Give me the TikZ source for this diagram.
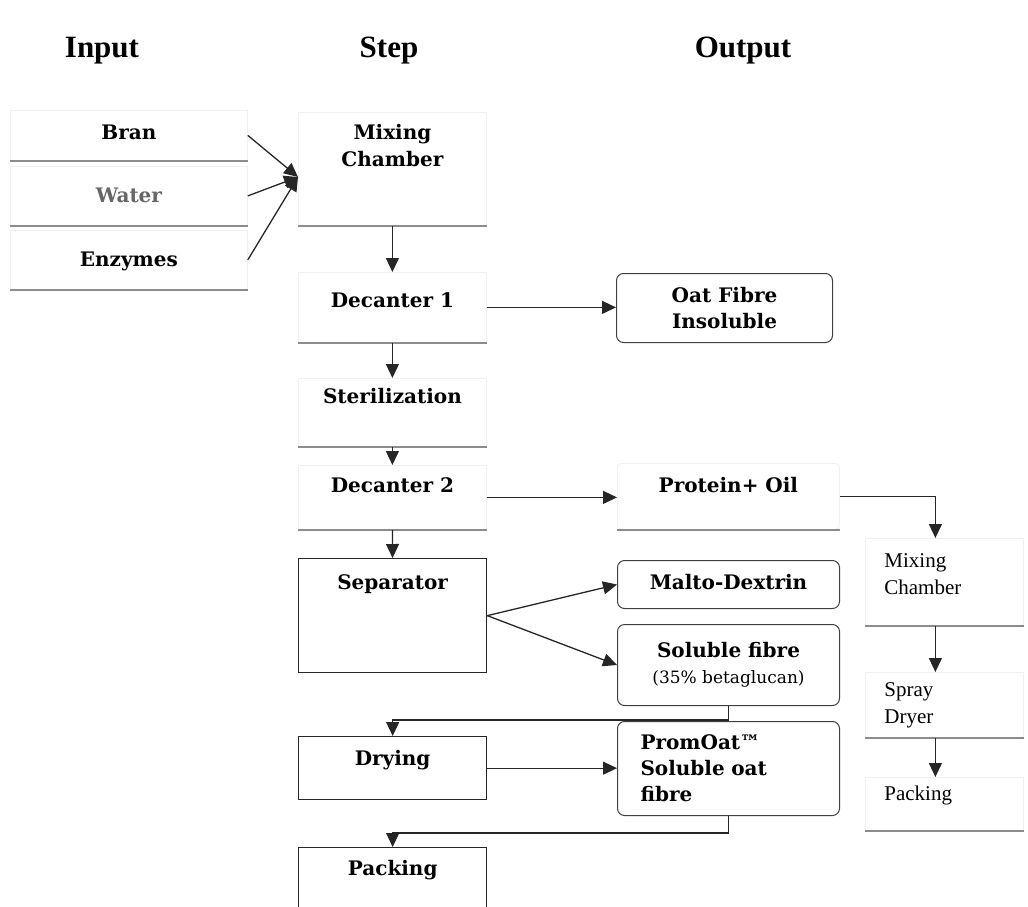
\documentclass[tikz,border=0pt]{standalone}
\usepackage{fontspec}
\setmainfont{DejaVu Serif}
\newfontfamily\headfont{Liberation Serif}
\usetikzlibrary{arrows.meta,positioning}

\tikzset{
  softbox/.style={draw=black!6, line width=0.8pt, fill=white, anchor=north west,
    inner sep=0pt, minimum width=#1,
    append after command={(\tikzlastnode.south west) edge[draw=black!45, line width=1.5pt, -] (\tikzlastnode.south east)}},
  plainbox/.style={draw=black!85, line width=1.3pt, fill=white, anchor=north west,
    inner sep=0pt, minimum width=#1},
  roundbox/.style={draw=black!75, line width=1pt, rounded corners=7pt, fill=white,
    anchor=north west, inner sep=0pt, minimum width=#1},
  oneline/.style={text height=14pt, text depth=#1},
  head/.style={anchor=base, font=\headfont\bfseries\fontsize{31}{36}\selectfont},
  timesbox/.style={font=\headfont\fontsize{21}{27}\selectfont, text width=120, align=left},
  flow/.style={draw=black!85, line width=1.3pt}
}

\begin{document}
\begin{tikzpicture}[x=1pt,y=-1pt,>={Triangle[length=14pt,width=13pt]},
  font=\bfseries\fontsize{20}{26}\selectfont]

\useasboundingbox (0,0) rectangle (1028,907);
\clip (0,0) rectangle (1028,907);

% column heads
\node[head] (hin)   at (102,58) {Input};
\node[head] (hstep) at (389,58) {Step};
\node[head] (hout)  at (743,58) {Output};

% inputs
\node[softbox=237, minimum height=50, oneline=6]             (bran)    at (10,110) {Bran};
\node[softbox=237, minimum height=59, oneline=0, text=black!60] (water) at (10,166) {Water};
\node[softbox=237, minimum height=59, oneline=0]             (enzymes) at (10,230) {Enzymes};

% steps
\node[softbox=188, minimum height=113, align=center] (mix1) at (298,112) {Mixing\\Chamber\\[21pt]\mbox{}};
\node[softbox=188, minimum height=70, oneline=14]  (dec1) at (298,272) {Decanter 1};
\node[softbox=188, minimum height=68, oneline=32]  (ster) at (298,378) {Sterilization};
\node[softbox=188, minimum height=64, oneline=24]  (dec2) at (298,465) {Decanter 2};
\node[plainbox=188, minimum height=114, oneline=66] (sep)  at (298,558) {Separator};
\node[plainbox=188, minimum height=63, oneline=19]  (dry)  at (298,736) {Drying};
\node[plainbox=188, minimum height=80, oneline=38]  (pack) at (298,847) {Packing};

% outputs
\node[roundbox=216, minimum height=69, align=center] (oatfib)  at (616,273) {Oat Fibre\\Insoluble};
\node[softbox=222, rounded corners=4pt, minimum height=66, oneline=22] (protein) at (617,463) {Protein+ Oil};
\node[roundbox=222, minimum height=48, oneline=4]    (malto)   at (617,560) {Malto-Dextrin};
\node[roundbox=222, minimum height=81, align=center] (solfib)  at (617,624)
  {Soluble fibre\\{\mdseries\fontsize{17}{20}\selectfont(35\% betaglucan)}};
\node[roundbox=222, minimum height=94, text width=176, align=left] (promoat) at (617,721)
  {PromOat™\\Soluble oat\\fibre};

% protein line
\node[softbox=158, timesbox, minimum height=87]  (mix2)  at (865,538) {Mixing\\Chamber\\[-11pt]\mbox{}};
\node[softbox=158, timesbox, minimum height=65]  (spray) at (865,672) {Spray\\Dryer};
\node[softbox=158, timesbox, minimum height=53, oneline=21] (pack2) at (865,777) {Packing};

\coordinate (mixin) at (298,177);

\draw[flow,->] (bran.east) -- (mixin);
\draw[flow,->] (water.east) -- (mixin);
\draw[flow,->] (enzymes.east) -- (mixin);

\draw[flow,->] (mix1) -- (dec1);
\draw[flow,->] (dec1.east) -- (dec1.east -| oatfib.west);
\draw[flow,->] (dec1) -- (ster);
\draw[flow,->] (ster) -- (dec2);
\draw[flow,->] (dec2.east) -- (dec2.east -| protein.west);
\draw[flow,->] (dec2) -- (sep);
\draw[flow,->] (sep.east) -- (malto.west);
\draw[flow,->] (sep.east) -- (solfib.west);
\draw[flow,->] (solfib.south) -- ++(0,14) -| (dry.north);
\draw[flow,->] (dry.east) -- (dry.east -| promoat.west);
\draw[flow,->] (promoat.south) -- ++(0,17) -| (pack.north);

\draw[flow,->] (protein.east) -| ([xshift=-9]mix2.north);
\draw[flow,->] ([xshift=-9]mix2.south) -- ([xshift=-9]spray.north);
\draw[flow,->] ([xshift=-9]spray.south) -- ([xshift=-9]pack2.north);

\end{tikzpicture}
\end{document}
